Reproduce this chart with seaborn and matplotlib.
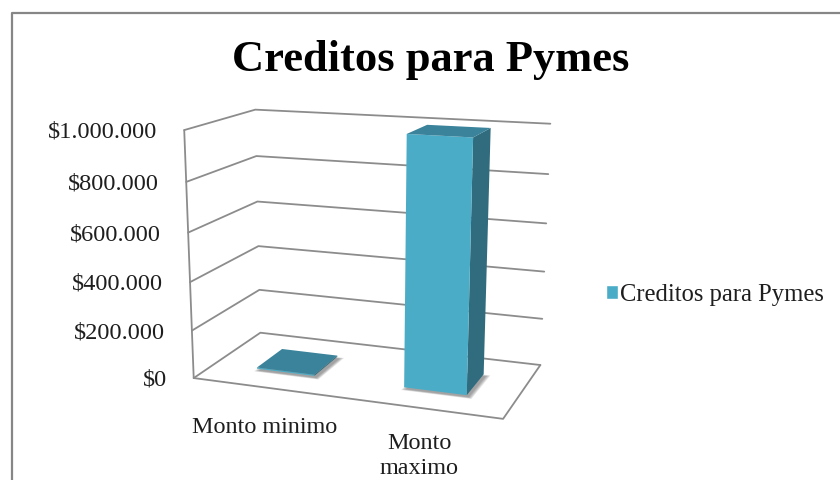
import numpy as np
import pandas as pd
import matplotlib
matplotlib.use("Agg")
import matplotlib.pyplot as plt
from matplotlib.patches import Polygon
from matplotlib.transforms import Transform, IdentityTransform
import seaborn as sns

categories = ["Monto minimo", "Monto\nmaximo"]
values = [5000, 1000000]
series_name = "Creditos para Pymes"
title_text = "Creditos para Pymes"
tick_values = [0, 200000, 400000, 600000, 800000, 1000000]
tick_labels = ["$0", "$200.000", "$400.000", "$600.000", "$800.000", "$1.000.000"]

W, H = 840, 480
FRONT = "#4AACC6"
TOP = "#3A839B"
SIDE = "#306C7E"
GRID = "#8C8C8C"
YMAX = 1000000.0
Z0, Z1 = 0.30, 0.70
BAR_W = 0.40
XSHIFT = 0.50

# camera fitted to the frame of the 3D box (x category span, value, depth) -> pixels
world = np.array([[0, 0, 0], [2, 0, 0], [0, 0, 1], [2, 0, 1],
                  [0, 1, 0], [0, 1, 1], [2, 1, 1],
                  [0, .6, 1], [2, .6, 1]], float)
image = np.array([[194, 378], [503, 419], [260, 333], [540, 365],
                  [184, 130], [255, 110], [550, 124],
                  [258, 201], [547, 223]], float)
A, b = [], []
for (X, Y, Z), (u, v) in zip(world, image):
    A.append([X, Y, Z, 1, 0, 0, 0, 0, -u * X, -u * Y, -u * Z]); b.append(u)
    A.append([0, 0, 0, 0, X, Y, Z, 1, -v * X, -v * Y, -v * Z]); b.append(v)
cam = np.append(np.linalg.lstsq(np.array(A), np.array(b), rcond=None)[0], 1).reshape(3, 4)


def px(x, val, z):
    """category position, value, depth -> display coordinates"""
    x, val, z = np.broadcast_arrays(np.asarray(x, float) + XSHIFT, np.asarray(val, float) / YMAX, z)
    p = cam @ np.vstack([x.ravel(), val.ravel(), z.ravel(), np.ones(x.size)])
    return np.column_stack([p[0] / p[2], H - p[1] / p[2]])


class FrontPlane(Transform):
    input_dims = output_dims = 2
    is_affine = False
    has_inverse = False

    def __init__(self, z):
        super().__init__()
        self.z = z

    def transform_non_affine(self, v):
        v = np.asarray(v, float)
        return px(v[:, 0], v[:, 1], self.z)


sns.set_theme(style="white")
plt.rcParams["font.family"] = ["Liberation Serif", "DejaVu Serif"]
fig = plt.figure(figsize=(W / 100, H / 100), dpi=100, facecolor="white")
ax = fig.add_axes([0, 0, 1, 1])

df = pd.DataFrame({"cat": categories, "val": values, "serie": series_name})
sns.barplot(data=df, x="cat", y="val", hue="serie", palette=[FRONT], width=BAR_W,
            saturation=1, ax=ax, zorder=5)
ax.axis("off")
ident = IdentityTransform()


def line(pts, **kw):
    pts = np.asarray(pts)
    ax.plot(pts[:, 0], pts[:, 1], transform=ident, clip_on=False, scalex=False, scaley=False, **kw)


# walls and gridlines
for t in tick_values:
    p = px([-XSHIFT, -XSHIFT, 2 - XSHIFT], t, [0, 1, 1])
    line(p, color=GRID, lw=1.3, zorder=1)
line(px(-XSHIFT, [0, YMAX], 0), color=GRID, lw=1.3, zorder=1)
line(px([-XSHIFT, 2 - XSHIFT, 2 - XSHIFT], 0, [0, 0, 1]), color=GRID, lw=1.3, zorder=1)

# tick labels
for t, lab in zip(tick_values, tick_labels):
    x0, y0 = px(-XSHIFT, t, 0)[0]
    ax.text(x0 - 27, y0 - 2, lab, transform=ident, ha="right", va="center",
            fontsize=17.6, color="#1E1E1E", clip_on=False)

# category labels
for i, (c, dy) in enumerate(zip(categories, [29, 25])):
    x0, y0 = px(i, 0, 0)[0]
    ax.text(x0 - 1, y0 - dy, c, transform=ident, ha="center", va="top", fontsize=17.4,
            color="#1E1E1E", linespacing=1.27, clip_on=False)


def shadow(poly, dx, dy):
    c = poly.mean(axis=0)
    for grow in np.linspace(5, 0, 6):
        d = poly - c
        q = c + d * (1 + grow / np.abs(d).max()) + [dx, -dy]
        ax.add_patch(Polygon(q, closed=True, fc="#404040", ec="none", alpha=.1,
                             transform=ident, zorder=2, clip_on=False))


# bars: the seaborn rectangle is the front face, side and top follow from the same geometry
front_tf = FrontPlane(Z0)
for bar in ax.patches:
    x0, x1 = bar.get_x(), bar.get_x() + bar.get_width()
    h = bar.get_height()
    foot = px([x0, x1, x1, x0], 0, [Z0, Z0, Z1, Z1])
    shadow(foot, 2, 2)
    bar.set_transform(front_tf)
    bar.set_clip_on(False)
    bar.set_edgecolor("none")
    side = px([x1, x1, x1, x1], [0, h, h, 0], [Z0, Z0, Z1, Z1])
    top = px([x0, x1, x1, x0], h, [Z0, Z0, Z1, Z1])
    ax.add_patch(Polygon(side, closed=True, fc=SIDE, ec="none", transform=ident, zorder=4, clip_on=False))
    ax.add_patch(Polygon(top, closed=True, fc=TOP, ec="none", transform=ident, zorder=6, clip_on=False))

# chart border
line([[11.5, 0], [11.5, H - 12.5], [W, H - 12.5]], color="#868686", lw=1.6, zorder=1)

ax.text(431, H - 60, title_text, transform=ident, ha="center", va="center",
        fontsize=32, fontweight="bold", color="black")

sns.move_legend(ax, loc="center left", bbox_to_anchor=(605.5 / W, 1 - 295 / H), title=None,
                frameon=False, fontsize=17.7, handlelength=0.49, handleheight=0.49,
                handletextpad=0.1, borderpad=0, borderaxespad=0, labelcolor="#1E1E1E")

fig.savefig("out.png", dpi=100, facecolor="white")
